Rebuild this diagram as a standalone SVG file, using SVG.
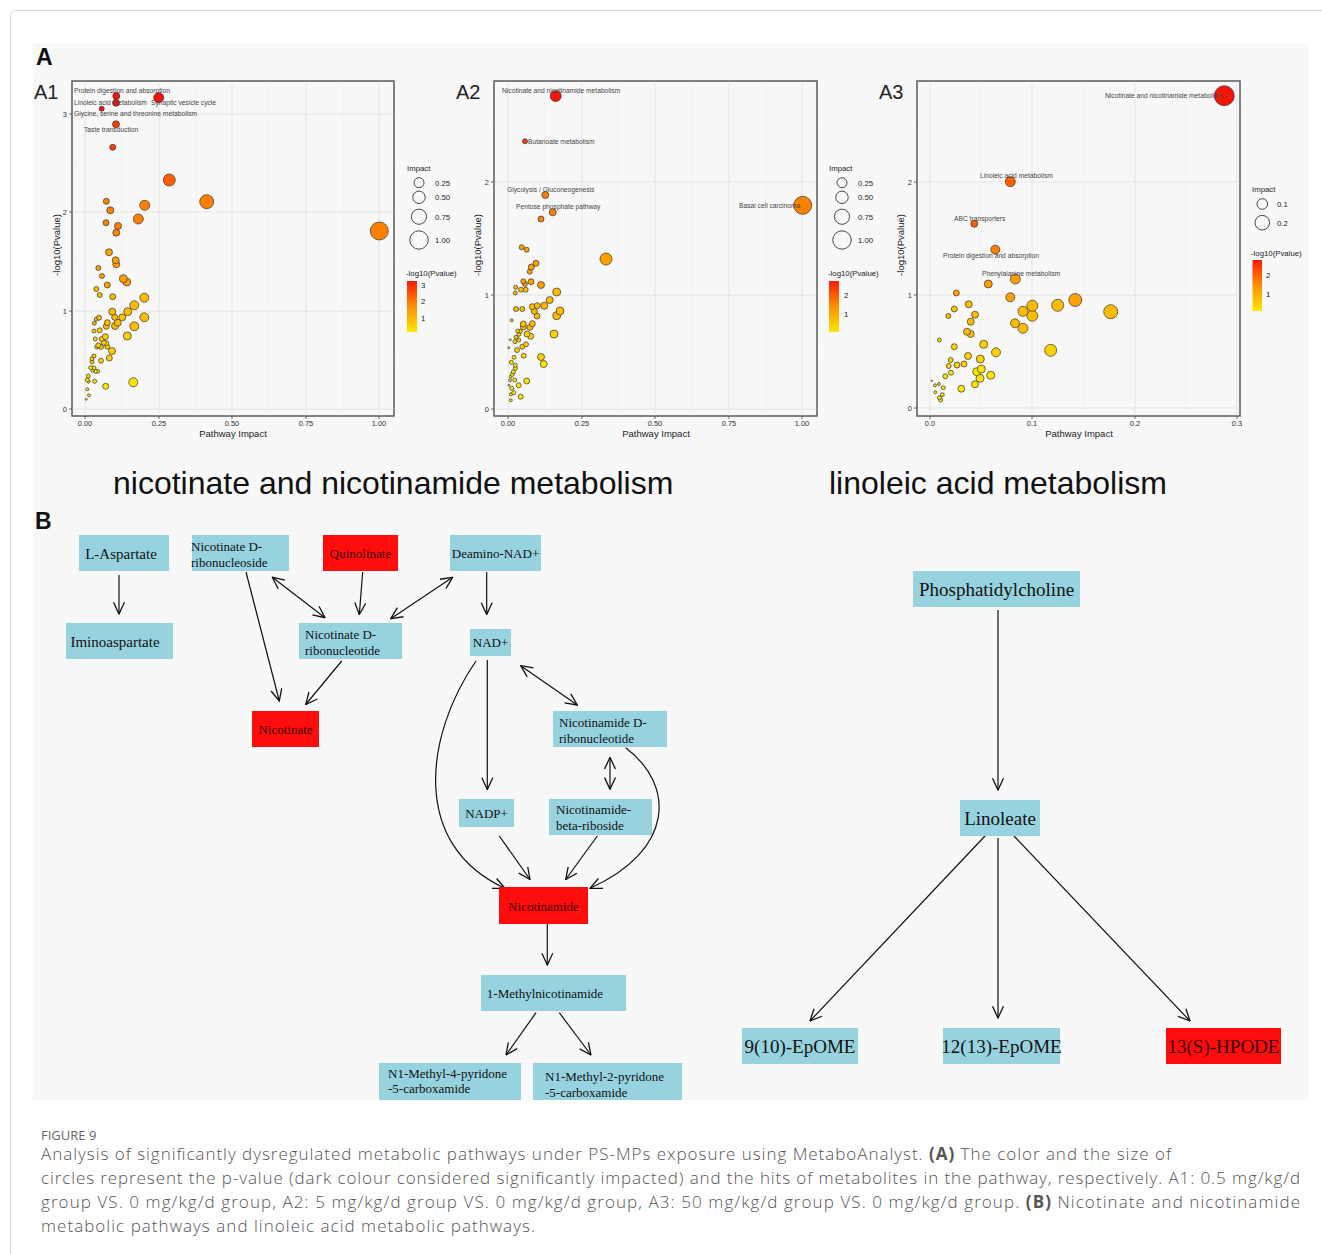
<svg xmlns="http://www.w3.org/2000/svg" width="1322" height="1254" viewBox="0 0 1322 1254">
<style>
.sans{font-family:"Liberation Sans",Arial,sans-serif}
.serif{font-family:"Liberation Serif","Times New Roman",serif}
.panel{fill:#f8f8f8;stroke:#6b6b6b;stroke-width:1.2}
.gmaj{stroke:#e4e4e4;stroke-width:1}
.gmin{stroke:#efefef;stroke-width:0.6}
.tick{stroke:#444;stroke-width:0.8}
.tl{font-family:"Liberation Sans",Arial,sans-serif;font-size:7.5px;fill:#333}
.axt{font-family:"Liberation Sans",Arial,sans-serif;font-size:9.5px;fill:#222}
.lab{font-family:"Liberation Sans",Arial,sans-serif;font-size:6.7px;fill:#444}
.leg{font-family:"Liberation Sans",Arial,sans-serif;font-size:7.8px;fill:#222}
.lc{fill:none;stroke:#333;stroke-width:0.9}
circle.d{stroke:#333;stroke-width:0.7}
.r2{fill:#f41408}.r1{fill:#ff3a00}.o3{fill:#ff5f00}.o2{fill:#ff8000}.o1{fill:#ffa000}.y2{fill:#ffbb00}.y1{fill:#ffd000}.y0{fill:#ffe400}
.bb{fill:#97d3df}
.rb{fill:#ff0c0c}
.nt{font-family:"Liberation Serif","Times New Roman",serif;font-size:13px;fill:#111}
.nt15{font-family:"Liberation Serif","Times New Roman",serif;font-size:15px;fill:#111}
.ntr{font-family:"Liberation Serif","Times New Roman",serif;font-size:13px;fill:#3a0000}
.ntb{font-family:"Liberation Serif","Times New Roman",serif;font-size:19px;fill:#111}
.ntbr{font-family:"Liberation Serif","Times New Roman",serif;font-size:19px;fill:#3a0000}
.edge{fill:none;stroke:#111;stroke-width:1.2}
.cap{font-family:"Open Sans","Liberation Sans",sans-serif;font-size:17px;fill:#555;font-weight:300}
</style>
<defs>
<marker id="ah" viewBox="0 0 10 10" refX="9.5" refY="5" markerWidth="13" markerHeight="13" markerUnits="userSpaceOnUse" orient="auto-start-reverse">
<path d="M0.5,0.8 L9.5,5 L0.5,9.2" fill="none" stroke="#111" stroke-width="1"/>
</marker>
<linearGradient id="cbar" x1="0" y1="0" x2="0" y2="1">
<stop offset="0" stop-color="#ff1a00"/>
<stop offset="0.5" stop-color="#ff9000"/>
<stop offset="1" stop-color="#ffe800"/>
</linearGradient>
</defs>
<rect x="10.5" y="10.5" width="1330" height="1260" rx="5" fill="#ffffff" stroke="#d8d8d8"/>
<rect x="33" y="43" width="1275" height="1057" fill="#f8f8f8"/>

<text x="36" y="65" class="sans" font-size="23" font-weight="bold" fill="#111">A</text>
<text x="34" y="99" class="sans" font-size="20" fill="#222">A1</text>
<text x="456" y="99" class="sans" font-size="20" fill="#222">A2</text>
<text x="879" y="99" class="sans" font-size="20" fill="#222">A3</text>

<!-- A1 plot -->
<g id="plot-a1">
<rect class="panel" x="72" y="81" width="322" height="335"/>
<g>
<line class="gmin" x1="122" y1="81" x2="122" y2="416"/><line class="gmin" x1="196" y1="81" x2="196" y2="416"/><line class="gmin" x1="269" y1="81" x2="269" y2="416"/><line class="gmin" x1="343" y1="81" x2="343" y2="416"/>
<line class="gmin" x1="72" y1="360" x2="394" y2="360"/><line class="gmin" x1="72" y1="261" x2="394" y2="261"/><line class="gmin" x1="72" y1="163" x2="394" y2="163"/>
<line class="gmaj" x1="85" y1="81" x2="85" y2="416"/><line class="gmaj" x1="159" y1="81" x2="159" y2="416"/><line class="gmaj" x1="232" y1="81" x2="232" y2="416"/><line class="gmaj" x1="306" y1="81" x2="306" y2="416"/><line class="gmaj" x1="379" y1="81" x2="379" y2="416"/>
<line class="gmaj" x1="72" y1="409" x2="394" y2="409"/><line class="gmaj" x1="72" y1="311" x2="394" y2="311"/><line class="gmaj" x1="72" y1="212" x2="394" y2="212"/><line class="gmaj" x1="72" y1="114" x2="394" y2="114"/>
</g>
<rect x="72" y="81" width="322" height="335" fill="none" stroke="#6b6b6b" stroke-width="1.2"/>
<g>
<line class="tick" x1="69" y1="409" x2="72" y2="409"/><line class="tick" x1="69" y1="311" x2="72" y2="311"/><line class="tick" x1="69" y1="212" x2="72" y2="212"/><line class="tick" x1="69" y1="114" x2="72" y2="114"/>
<line class="tick" x1="85" y1="416" x2="85" y2="419"/><line class="tick" x1="159" y1="416" x2="159" y2="419"/><line class="tick" x1="232" y1="416" x2="232" y2="419"/><line class="tick" x1="306" y1="416" x2="306" y2="419"/><line class="tick" x1="379" y1="416" x2="379" y2="419"/>
</g>
<text class="tl" x="67" y="412" text-anchor="end">0</text><text class="tl" x="67" y="314" text-anchor="end">1</text><text class="tl" x="67" y="215" text-anchor="end">2</text><text class="tl" x="67" y="117" text-anchor="end">3</text>
<text class="tl" x="85" y="426" text-anchor="middle">0.00</text><text class="tl" x="159" y="426" text-anchor="middle">0.25</text><text class="tl" x="232" y="426" text-anchor="middle">0.50</text><text class="tl" x="306" y="426" text-anchor="middle">0.75</text><text class="tl" x="379" y="426" text-anchor="middle">1.00</text>
<text class="axt" x="233" y="437" text-anchor="middle">Pathway Impact</text>
<text class="axt" transform="translate(60,245) rotate(-90)" text-anchor="middle">-log10(Pvalue)</text>
<g>
<circle class="d y0" cx="86.3" cy="399.3" r="1"/><circle class="d y0" cx="89" cy="395.3" r="1.5"/><circle class="d y0" cx="87.3" cy="389.3" r="1.5"/>
<circle class="d y0" cx="105.7" cy="386.3" r="3"/><circle class="d y0" cx="133.3" cy="382.3" r="4.5"/><circle class="d y0" cx="94.7" cy="381.3" r="2"/><circle class="d y0" cx="88.7" cy="381.7" r="1.5"/><circle class="d y0" cx="87.3" cy="380" r="2"/><circle class="d y0" cx="88.3" cy="376" r="2"/>
<circle class="d y0" cx="97.7" cy="371.3" r="2"/><circle class="d y0" cx="95.3" cy="371.3" r="2"/><circle class="d y0" cx="92.7" cy="370" r="2"/><circle class="d y0" cx="94" cy="368" r="2"/><circle class="d y0" cx="90.7" cy="367.7" r="2"/>
<circle class="d y1" cx="92" cy="362" r="2"/><circle class="d y1" cx="92" cy="358.7" r="2"/><circle class="d y1" cx="94" cy="356" r="2"/><circle class="d y1" cx="101" cy="360.7" r="2.5"/><circle class="d y1" cx="109.3" cy="358" r="3"/><circle class="d y1" cx="112" cy="351" r="3.5"/>
<circle class="d y1" cx="96.7" cy="347" r="2"/><circle class="d y1" cx="101" cy="347" r="2.5"/><circle class="d y1" cx="98.3" cy="345.3" r="2.5"/><circle class="d y1" cx="107.3" cy="346.7" r="2.5"/><circle class="d y1" cx="106.3" cy="343.3" r="2.5"/><circle class="d y1" cx="103.7" cy="342.7" r="2.5"/><circle class="d y1" cx="101.7" cy="339" r="2.5"/><circle class="d y1" cx="95.3" cy="339" r="2"/>
<circle class="d y1" cx="127.3" cy="336" r="4"/><circle class="d y1" cx="105.3" cy="336.7" r="3"/><circle class="d y1" cx="99.7" cy="330.3" r="2.5"/><circle class="d y1" cx="94" cy="331" r="2"/>
<circle class="d y2" cx="94.3" cy="323.3" r="2"/><circle class="d y2" cx="134.3" cy="326.3" r="4.5"/><circle class="d y2" cx="106.3" cy="326.3" r="3"/><circle class="d y2" cx="115" cy="326" r="3.5"/><circle class="d y2" cx="107.3" cy="322.7" r="3"/><circle class="d y2" cx="117.7" cy="322.7" r="3.5"/>
<circle class="d y2" cx="96.3" cy="319.3" r="2"/><circle class="d y2" cx="99" cy="317.7" r="2.5"/><circle class="d y2" cx="114.7" cy="317.3" r="3"/><circle class="d y2" cx="122.3" cy="317.3" r="3.5"/><circle class="d y2" cx="144.3" cy="317.3" r="4.5"/><circle class="d y2" cx="112.3" cy="311.7" r="3.5"/><circle class="d y2" cx="127.7" cy="311.7" r="4"/><circle class="d y2" cx="134.3" cy="305.3" r="4.5"/><circle class="d y2" cx="144.3" cy="297.7" r="4.5"/><circle class="d y2" cx="112.7" cy="296.7" r="3"/><circle class="d y2" cx="99.7" cy="295" r="2.5"/><circle class="d y2" cx="96.3" cy="289" r="2.5"/>
<circle class="d o1" cx="107.3" cy="285" r="3"/><circle class="d o1" cx="126.7" cy="282" r="4"/><circle class="d o1" cx="123.3" cy="278.7" r="4"/><circle class="d o1" cx="102" cy="276" r="2.5"/><circle class="d o1" cx="98.3" cy="268" r="2.5"/><circle class="d o1" cx="116.3" cy="264.3" r="3.5"/><circle class="d o1" cx="115.7" cy="260.3" r="3.5"/><circle class="d o1" cx="109" cy="252.3" r="3.5"/>
<circle class="d o2" cx="379.3" cy="231" r="9"/><circle class="d o2" cx="116.3" cy="232.7" r="3.5"/><circle class="d o2" cx="118" cy="226" r="3.5"/><circle class="d o2" cx="106" cy="222.7" r="3"/><circle class="d o2" cx="138.3" cy="219" r="5"/><circle class="d o2" cx="110.3" cy="210.3" r="3.5"/><circle class="d o2" cx="106.3" cy="201.3" r="3"/><circle class="d o2" cx="144.7" cy="205.3" r="5"/><circle class="d o2" cx="206.7" cy="201.7" r="7"/>
<circle class="d o3" cx="169.3" cy="180" r="6"/><circle class="d r1" cx="112.7" cy="147.3" r="3"/><circle class="d r1" cx="116" cy="124.3" r="3.5"/>
<circle class="d r2" cx="101.7" cy="108.7" r="2.5"/><circle class="d r2" cx="116" cy="102.7" r="3.5"/><circle class="d r2" cx="158.7" cy="97.7" r="5"/><circle class="d r2" cx="116.3" cy="96" r="3.5"/>
</g>
<text class="lab" x="74" y="93">Protein digestion and absorption</text>
<text class="lab" x="74" y="105">Linoleic acid metabolism</text>
<text class="lab" x="151" y="105">Synaptic vesicle cycle</text>
<text class="lab" x="74" y="116">Glycine, serine and threonine metabolism</text>
<text class="lab" x="84" y="132">Taste transduction</text>
</g>
<g id="legend-a1">
<text class="leg" x="407" y="171">Impact</text>
<circle class="lc" cx="419" cy="182.7" r="5"/><circle class="lc" cx="419" cy="197.3" r="6.2"/><circle class="lc" cx="419" cy="216.7" r="7.6"/><circle class="lc" cx="419" cy="240" r="9.2"/>
<text class="leg" x="435" y="185.5">0.25</text><text class="leg" x="435" y="200">0.50</text><text class="leg" x="435" y="219.5">0.75</text><text class="leg" x="435" y="243">1.00</text>
<text class="leg" x="406" y="276">-log10(Pvalue)</text>
<rect x="407" y="281" width="10" height="51" fill="url(#cbar)"/>
<text class="leg" x="421" y="288">3</text><text class="leg" x="421" y="304">2</text><text class="leg" x="421" y="321">1</text>
</g>

<!-- A2 plot -->
<g id="plot-a2">
<rect class="panel" x="494" y="81" width="323" height="335"/>
<g>
<line class="gmin" x1="545" y1="81" x2="545" y2="416"/><line class="gmin" x1="618" y1="81" x2="618" y2="416"/><line class="gmin" x1="692" y1="81" x2="692" y2="416"/><line class="gmin" x1="766" y1="81" x2="766" y2="416"/>
<line class="gmin" x1="494" y1="352" x2="817" y2="352"/><line class="gmin" x1="494" y1="238" x2="817" y2="238"/><line class="gmin" x1="494" y1="125" x2="817" y2="125"/>
<line class="gmaj" x1="508" y1="81" x2="508" y2="416"/><line class="gmaj" x1="582" y1="81" x2="582" y2="416"/><line class="gmaj" x1="655" y1="81" x2="655" y2="416"/><line class="gmaj" x1="729" y1="81" x2="729" y2="416"/><line class="gmaj" x1="802" y1="81" x2="802" y2="416"/>
<line class="gmaj" x1="494" y1="409" x2="817" y2="409"/><line class="gmaj" x1="494" y1="295" x2="817" y2="295"/><line class="gmaj" x1="494" y1="182" x2="817" y2="182"/>
</g>
<rect x="494" y="81" width="323" height="335" fill="none" stroke="#6b6b6b" stroke-width="1.2"/>
<g>
<line class="tick" x1="491" y1="409" x2="494" y2="409"/><line class="tick" x1="491" y1="295" x2="494" y2="295"/><line class="tick" x1="491" y1="182" x2="494" y2="182"/>
<line class="tick" x1="508" y1="416" x2="508" y2="419"/><line class="tick" x1="582" y1="416" x2="582" y2="419"/><line class="tick" x1="655" y1="416" x2="655" y2="419"/><line class="tick" x1="729" y1="416" x2="729" y2="419"/><line class="tick" x1="802" y1="416" x2="802" y2="419"/>
</g>
<text class="tl" x="489" y="412" text-anchor="end">0</text><text class="tl" x="489" y="298" text-anchor="end">1</text><text class="tl" x="489" y="185" text-anchor="end">2</text>
<text class="tl" x="508" y="426" text-anchor="middle">0.00</text><text class="tl" x="582" y="426" text-anchor="middle">0.25</text><text class="tl" x="655" y="426" text-anchor="middle">0.50</text><text class="tl" x="729" y="426" text-anchor="middle">0.75</text><text class="tl" x="802" y="426" text-anchor="middle">1.00</text>
<text class="axt" x="656" y="437" text-anchor="middle">Pathway Impact</text>
<text class="axt" transform="translate(481,245) rotate(-90)" text-anchor="middle">-log10(Pvalue)</text>
<g>
<circle class="d y0" cx="510.7" cy="400.3" r="1.5"/><circle class="d y0" cx="520.7" cy="396.7" r="2.5"/><circle class="d y0" cx="511" cy="394.3" r="1.5"/><circle class="d y0" cx="513.7" cy="392.7" r="2"/><circle class="d y0" cx="511.7" cy="388.3" r="2"/><circle class="d y0" cx="509" cy="385.3" r="1"/><circle class="d y0" cx="518.7" cy="385.3" r="2.5"/><circle class="d y0" cx="526.7" cy="381" r="3"/><circle class="d y0" cx="510" cy="380.3" r="1.5"/><circle class="d y0" cx="514.7" cy="380" r="2"/><circle class="d y0" cx="510.7" cy="376.7" r="1.5"/><circle class="d y0" cx="512.3" cy="374.3" r="2"/><circle class="d y0" cx="513.3" cy="371.7" r="2"/><circle class="d y0" cx="515.3" cy="368.3" r="2"/><circle class="d y0" cx="515.3" cy="365.3" r="2"/><circle class="d y0" cx="511.3" cy="362.3" r="2"/><circle class="d y0" cx="514" cy="357.3" r="2"/><circle class="d y0" cx="543.7" cy="364" r="3.5"/>
<circle class="d y1" cx="541" cy="357" r="3.5"/><circle class="d y1" cx="523.7" cy="355.7" r="2.5"/><circle class="d y1" cx="517" cy="350" r="2.5"/><circle class="d y1" cx="522.3" cy="346.7" r="2.5"/><circle class="d y1" cx="526" cy="344.3" r="2.5"/><circle class="d y1" cx="508.7" cy="347.7" r="1"/><circle class="d y1" cx="510.3" cy="339.7" r="1"/><circle class="d y1" cx="515" cy="341.7" r="2"/><circle class="d y1" cx="518.7" cy="340" r="2"/><circle class="d y1" cx="516" cy="337.3" r="2"/><circle class="d y1" cx="519" cy="334.3" r="2"/><circle class="d y1" cx="520.3" cy="331.3" r="2"/><circle class="d y1" cx="517.7" cy="331" r="2"/><circle class="d y1" cx="530.7" cy="336.3" r="3"/><circle class="d y1" cx="527" cy="334" r="3"/><circle class="d y1" cx="554" cy="334" r="4"/>
<circle class="d y2" cx="523.3" cy="327" r="3"/><circle class="d y2" cx="530" cy="327.3" r="3"/><circle class="d y2" cx="532.3" cy="323.7" r="3"/><circle class="d y2" cx="523.3" cy="324" r="3"/><circle class="d y2" cx="511.7" cy="320.3" r="1.5"/><circle class="d y2" cx="522.3" cy="309" r="2.5"/><circle class="d y2" cx="516" cy="309" r="2.5"/><circle class="d y2" cx="537" cy="316" r="3"/><circle class="d y2" cx="534.3" cy="311.3" r="3"/><circle class="d y2" cx="532.3" cy="306.7" r="3"/><circle class="d y2" cx="537.3" cy="305.7" r="3"/><circle class="d y2" cx="556.7" cy="315.7" r="4"/><circle class="d y2" cx="560" cy="311" r="4"/><circle class="d y2" cx="544.3" cy="305.7" r="3.5"/><circle class="d y2" cx="549.7" cy="300" r="3.5"/><circle class="d y2" cx="556.7" cy="292" r="4"/><circle class="d y2" cx="515.3" cy="293" r="2"/><circle class="d y2" cx="525.7" cy="289.7" r="2.5"/><circle class="d y2" cx="521" cy="289.7" r="2.5"/><circle class="d y2" cx="515.7" cy="287.3" r="2"/>
<circle class="d o1" cx="525" cy="284" r="2.5"/><circle class="d o1" cx="523.3" cy="281.3" r="2.5"/><circle class="d o1" cx="541" cy="285" r="3.5"/><circle class="d o1" cx="531" cy="281.7" r="3"/><circle class="d o1" cx="529.7" cy="271.7" r="2.5"/><circle class="d o1" cx="531.3" cy="267" r="3"/><circle class="d o1" cx="536" cy="263.3" r="3"/><circle class="d o1" cx="526.7" cy="249.7" r="2.5"/><circle class="d o1" cx="521.7" cy="247.3" r="2.5"/><circle class="d o1" cx="606" cy="259" r="6"/>
<circle class="d o2" cx="802.7" cy="205.3" r="9"/><circle class="d o2" cx="541" cy="219" r="3"/><circle class="d o2" cx="552.7" cy="212.3" r="3.5"/><circle class="d o2" cx="545.3" cy="195" r="3.5"/>
<circle class="d r1" cx="525" cy="141.3" r="2.5"/><circle class="d r2" cx="555.7" cy="96" r="5.5"/>
</g>
<text class="lab" x="502" y="93">Nicotinate and nicotinamide metabolism</text>
<text class="lab" x="528" y="144">Butanoate metabolism</text>
<text class="lab" x="507" y="192">Glycolysis / Gluconeogenesis</text>
<text class="lab" x="516" y="209">Pentose phosphate pathway</text>
<text class="lab" x="739" y="208">Basal cell carcinoma</text>
</g>
<g id="legend-a2">
<text class="leg" x="829" y="171">Impact</text>
<circle class="lc" cx="842" cy="182.7" r="5"/><circle class="lc" cx="842" cy="197.3" r="6.2"/><circle class="lc" cx="842" cy="216.7" r="7.6"/><circle class="lc" cx="842" cy="240" r="9.2"/>
<text class="leg" x="858" y="185.5">0.25</text><text class="leg" x="858" y="200">0.50</text><text class="leg" x="858" y="219.5">0.75</text><text class="leg" x="858" y="243">1.00</text>
<text class="leg" x="828" y="276">-log10(Pvalue)</text>
<rect x="829" y="281" width="10" height="51" fill="url(#cbar)"/>
<text class="leg" x="844" y="298">2</text><text class="leg" x="844" y="317">1</text>
</g>

<!-- A3 plot -->
<g id="plot-a3">
<rect class="panel" x="917" y="81" width="323" height="335"/>
<g>
<line class="gmin" x1="981" y1="81" x2="981" y2="416"/><line class="gmin" x1="1083" y1="81" x2="1083" y2="416"/><line class="gmin" x1="1186" y1="81" x2="1186" y2="416"/>
<line class="gmin" x1="917" y1="352" x2="1240" y2="352"/><line class="gmin" x1="917" y1="238" x2="1240" y2="238"/><line class="gmin" x1="917" y1="125" x2="1240" y2="125"/>
<line class="gmaj" x1="930" y1="81" x2="930" y2="416"/><line class="gmaj" x1="1032" y1="81" x2="1032" y2="416"/><line class="gmaj" x1="1135" y1="81" x2="1135" y2="416"/><line class="gmaj" x1="1237" y1="81" x2="1237" y2="416"/>
<line class="gmaj" x1="917" y1="408" x2="1240" y2="408"/><line class="gmaj" x1="917" y1="295" x2="1240" y2="295"/><line class="gmaj" x1="917" y1="182" x2="1240" y2="182"/>
</g>
<rect x="917" y="81" width="323" height="335" fill="none" stroke="#6b6b6b" stroke-width="1.2"/>
<g>
<line class="tick" x1="914" y1="408" x2="917" y2="408"/><line class="tick" x1="914" y1="295" x2="917" y2="295"/><line class="tick" x1="914" y1="182" x2="917" y2="182"/>
<line class="tick" x1="930" y1="416" x2="930" y2="419"/><line class="tick" x1="1032" y1="416" x2="1032" y2="419"/><line class="tick" x1="1135" y1="416" x2="1135" y2="419"/><line class="tick" x1="1237" y1="416" x2="1237" y2="419"/>
</g>
<text class="tl" x="912" y="411" text-anchor="end">0</text><text class="tl" x="912" y="298" text-anchor="end">1</text><text class="tl" x="912" y="185" text-anchor="end">2</text>
<text class="tl" x="930" y="426" text-anchor="middle">0.0</text><text class="tl" x="1032" y="426" text-anchor="middle">0.1</text><text class="tl" x="1135" y="426" text-anchor="middle">0.2</text><text class="tl" x="1237" y="426" text-anchor="middle">0.3</text>
<text class="axt" x="1079" y="437" text-anchor="middle">Pathway Impact</text>
<text class="axt" transform="translate(904,245) rotate(-90)" text-anchor="middle">-log10(Pvalue)</text>
<g>
<circle class="d y0" cx="931.7" cy="380.7" r="0.8"/><circle class="d y0" cx="940.7" cy="400" r="2"/><circle class="d y0" cx="939.3" cy="397.7" r="2"/><circle class="d y0" cx="942.3" cy="394.7" r="2"/><circle class="d y0" cx="935.3" cy="392.3" r="1.5"/><circle class="d y0" cx="939" cy="384" r="1.5"/><circle class="d y0" cx="935" cy="385.3" r="1.5"/><circle class="d y0" cx="943.3" cy="387.7" r="2"/><circle class="d y0" cx="961.3" cy="388.7" r="3.5"/><circle class="d y0" cx="975" cy="384.3" r="3.5"/><circle class="d y0" cx="945.3" cy="376.3" r="2.5"/><circle class="d y0" cx="951" cy="372.7" r="2.5"/><circle class="d y0" cx="980" cy="378.3" r="4"/><circle class="d y0" cx="990.7" cy="375.3" r="4"/><circle class="d y0" cx="976.7" cy="371.7" r="4"/><circle class="d y0" cx="981.3" cy="369" r="4"/>
<circle class="d y1" cx="964" cy="364" r="3"/><circle class="d y1" cx="957" cy="365" r="3"/><circle class="d y1" cx="948.7" cy="366" r="2.5"/><circle class="d y1" cx="950.7" cy="360" r="2.5"/><circle class="d y1" cx="980.3" cy="359" r="4"/><circle class="d y1" cx="968" cy="356" r="3.5"/><circle class="d y1" cx="1050.7" cy="350.3" r="6"/><circle class="d y1" cx="996" cy="352.3" r="4.5"/><circle class="d y1" cx="983.7" cy="344.3" r="4"/><circle class="d y1" cx="954.3" cy="346.7" r="3"/><circle class="d y1" cx="939.3" cy="340" r="2"/>
<circle class="d y2" cx="970.7" cy="334" r="3.5"/><circle class="d y2" cx="967" cy="331.7" r="3.5"/><circle class="d y2" cx="1023" cy="328.3" r="5"/><circle class="d y2" cx="1015" cy="323.3" r="4.5"/><circle class="d y2" cx="970.7" cy="321.7" r="3.5"/><circle class="d y2" cx="948.3" cy="316" r="2.5"/><circle class="d y2" cx="954.3" cy="309" r="3"/><circle class="d y2" cx="975" cy="314.7" r="3.5"/><circle class="d y2" cx="968.7" cy="304.3" r="3.5"/><circle class="d y2" cx="1032.3" cy="315.7" r="5.5"/><circle class="d y2" cx="1023" cy="311.3" r="5"/><circle class="d y2" cx="1110.7" cy="311.7" r="7"/><circle class="d y2" cx="1032.3" cy="305.7" r="5.5"/><circle class="d y2" cx="1057.7" cy="305.3" r="6"/>
<circle class="d o1" cx="1075.3" cy="300" r="6.5"/><circle class="d o1" cx="1010.3" cy="297.3" r="4.5"/><circle class="d o1" cx="956.3" cy="293" r="3"/><circle class="d o1" cx="988.3" cy="284" r="4"/><circle class="d o1" cx="1015.3" cy="279" r="5"/>
<circle class="d o2" cx="995.3" cy="249.7" r="4.5"/><circle class="d o3" cx="974.3" cy="223.7" r="3.5"/><circle class="d o3" cx="1010.3" cy="181.7" r="5"/>
<circle class="d r2" cx="1224.3" cy="95.7" r="10"/>
</g>
<text class="lab" x="1105" y="98">Nicotinate and nicotinamide metabolism</text>
<text class="lab" x="980" y="178">Linoleic acid metabolism</text>
<text class="lab" x="954" y="221">ABC transporters</text>
<text class="lab" x="943" y="258">Protein digestion and absorption</text>
<text class="lab" x="982" y="276">Phenylalanine metabolism</text>
</g>
<g id="legend-a3">
<text class="leg" x="1252" y="192">Impact</text>
<circle class="lc" cx="1262.3" cy="204" r="5.3"/><circle class="lc" cx="1262.3" cy="222.7" r="7.3"/>
<text class="leg" x="1277" y="207">0.1</text><text class="leg" x="1277" y="225.5">0.2</text>
<text class="leg" x="1251" y="256">-log10(Pvalue)</text>
<rect x="1252.5" y="260" width="9.5" height="51" fill="url(#cbar)"/>
<text class="leg" x="1266" y="278">2</text><text class="leg" x="1266" y="297">1</text>
</g>

<!-- Section titles -->
<text x="113" y="494" class="sans" font-size="32" fill="#111">nicotinate and nicotinamide metabolism</text>
<text x="829" y="494" class="sans" font-size="32" fill="#111">linoleic acid metabolism</text>
<text x="35" y="529" class="sans" font-size="23" font-weight="bold" fill="#111">B</text>

<!-- Connectors -->
<g id="connectors">
<line class="edge" x1="119" y1="575" x2="119" y2="614" marker-end="url(#ah)"/>
<line class="edge" x1="246" y1="572" x2="279.3" y2="701" marker-end="url(#ah)"/>
<line class="edge" x1="272.3" y1="577.3" x2="325" y2="617.7" marker-start="url(#ah)" marker-end="url(#ah)"/>
<line class="edge" x1="362.7" y1="572" x2="359.3" y2="614.5" marker-end="url(#ah)"/>
<line class="edge" x1="452.7" y1="577.3" x2="390.7" y2="618.7" marker-start="url(#ah)" marker-end="url(#ah)"/>
<line class="edge" x1="341.7" y1="661" x2="305.7" y2="704.5" marker-end="url(#ah)"/>
<line class="edge" x1="486.7" y1="572" x2="486.7" y2="614.5" marker-end="url(#ah)"/>
<line class="edge" x1="520.7" y1="665.7" x2="577.3" y2="705" marker-start="url(#ah)" marker-end="url(#ah)"/>
<line class="edge" x1="487.3" y1="660" x2="487.3" y2="789.5" marker-end="url(#ah)"/>
<path class="edge" d="M476,661 C425,735 410,845 505,888.3" marker-end="url(#ah)"/>
<path class="edge" d="M625.7,747.7 C675,785 675,850 590,888.3" marker-end="url(#ah)"/>
<line class="edge" x1="610" y1="757.3" x2="610" y2="789.3" marker-start="url(#ah)" marker-end="url(#ah)"/>
<line class="edge" x1="499.3" y1="836" x2="530" y2="879.5" marker-end="url(#ah)"/>
<line class="edge" x1="597.3" y1="836" x2="565.7" y2="879.5" marker-end="url(#ah)"/>
<line class="edge" x1="547.3" y1="924" x2="547.3" y2="965" marker-end="url(#ah)"/>
<line class="edge" x1="536" y1="1012.7" x2="506" y2="1055" marker-end="url(#ah)"/>
<line class="edge" x1="559.3" y1="1012.7" x2="591" y2="1055" marker-end="url(#ah)"/>
<line class="edge" x1="998" y1="610" x2="998" y2="790" marker-end="url(#ah)"/>
<line class="edge" x1="985" y1="836" x2="810" y2="1021" marker-end="url(#ah)"/>
<line class="edge" x1="998" y1="838" x2="998" y2="1018" marker-end="url(#ah)"/>
<line class="edge" x1="1014" y1="836" x2="1190" y2="1021" marker-end="url(#ah)"/>
</g>

<!-- Nodes -->
<g id="n-l-aspartate"><rect class="bb" x="79" y="535" width="90" height="36"/><text class="nt15" x="121" y="558.5" text-anchor="middle">L-Aspartate</text></g>
<g id="n-iminoaspartate"><rect class="bb" x="66" y="623" width="107" height="36"/><text class="nt15" x="115" y="647" text-anchor="middle">Iminoaspartate</text></g>
<g id="n-nicotinate-ribonucleoside"><rect class="bb" x="192" y="535" width="97" height="36"/><text class="nt" x="191" y="551">Nicotinate D-</text><text class="nt" x="191" y="567">ribonucleoside</text></g>
<g id="n-quinolinate"><rect class="rb" x="323" y="535" width="75" height="36"/><text class="ntr" x="360.5" y="558" text-anchor="middle">Quinolinate</text></g>
<g id="n-deamino-nad"><rect class="bb" x="450" y="535" width="91" height="36"/><text class="nt" x="495.5" y="558" text-anchor="middle">Deamino-NAD+</text></g>
<g id="n-nicotinate-ribonucleotide"><rect class="bb" x="299" y="623" width="103" height="36"/><text class="nt" x="305" y="639">Nicotinate D-</text><text class="nt" x="305" y="655">ribonucleotide</text></g>
<g id="n-nad"><rect class="bb" x="470" y="629" width="41" height="27"/><text class="nt" x="490.5" y="647" text-anchor="middle">NAD+</text></g>
<g id="n-nicotinate"><rect class="rb" x="252" y="711" width="67" height="36"/><text class="ntr" x="285.5" y="734" text-anchor="middle">Nicotinate</text></g>
<g id="n-nicotinamide-ribonucleotide"><rect class="bb" x="553" y="711" width="114" height="36"/><text class="nt" x="559" y="727">Nicotinamide D-</text><text class="nt" x="559" y="743">ribonucleotide</text></g>
<g id="n-nadp"><rect class="bb" x="459" y="799" width="55" height="28"/><text class="nt" x="486.5" y="817.5" text-anchor="middle">NADP+</text></g>
<g id="n-nicotinamide-riboside"><rect class="bb" x="549" y="799" width="103" height="36"/><text class="nt" x="556" y="814">Nicotinamide-</text><text class="nt" x="556" y="830">beta-riboside</text></g>
<g id="n-nicotinamide"><rect class="rb" x="499" y="887" width="89" height="37"/><text class="ntr" x="543.5" y="910.5" text-anchor="middle">Nicotinamide</text></g>
<g id="n-methylnicotinamide"><rect class="bb" x="481" y="975" width="145" height="36"/><text class="nt" x="545" y="997.5" text-anchor="middle">1-Methylnicotinamide</text></g>
<g id="n-n1-methyl-4"><rect class="bb" x="379" y="1063" width="142" height="37"/><text class="nt" x="388" y="1077.5">N1-Methyl-4-pyridone</text><text class="nt" x="388" y="1093">-5-carboxamide</text></g>
<g id="n-n1-methyl-2"><rect class="bb" x="533" y="1063" width="149" height="37"/><text class="nt" x="545" y="1081">N1-Methyl-2-pyridone</text><text class="nt" x="545" y="1096.5">-5-carboxamide</text></g>
<g id="n-phosphatidylcholine"><rect class="bb" x="913" y="571" width="167" height="36"/><text class="ntb" x="996.5" y="596" text-anchor="middle">Phosphatidylcholine</text></g>
<g id="n-linoleate"><rect class="bb" x="960" y="800" width="80" height="36"/><text class="ntb" x="1000" y="825" text-anchor="middle">Linoleate</text></g>
<g id="n-910-epome"><rect class="bb" x="742" y="1028" width="116" height="36"/><text class="ntb" x="800" y="1053" text-anchor="middle">9(10)-EpOME</text></g>
<g id="n-1213-epome"><rect class="bb" x="943" y="1028" width="117" height="36"/><text class="ntb" x="1001.5" y="1053" text-anchor="middle">12(13)-EpOME</text></g>
<g id="n-13s-hpode"><rect class="rb" x="1166" y="1028" width="115" height="36"/><text class="ntbr" x="1223.5" y="1053" text-anchor="middle">13(S)-HPODE</text></g>

<!-- Caption -->
<text x="41" y="1140" font-family="'Open Sans','Liberation Sans',sans-serif" font-size="13" fill="#666">FIGURE 9</text>
<text class="cap" x="41" y="1160" textLength="1130">Analysis of significantly dysregulated metabolic pathways under PS-MPs exposure using MetaboAnalyst. <tspan font-weight="bold">(A)</tspan> The color and the size of</text>
<text class="cap" x="41" y="1184" textLength="1259">circles represent the p-value (dark colour considered significantly impacted) and the hits of metabolites in the pathway, respectively. A1: 0.5 mg/kg/d</text>
<text class="cap" x="41" y="1208" textLength="1259">group VS. 0 mg/kg/d group, A2: 5 mg/kg/d group VS. 0 mg/kg/d group, A3: 50 mg/kg/d group VS. 0 mg/kg/d group. <tspan font-weight="bold">(B)</tspan> Nicotinate and nicotinamide</text>
<text class="cap" x="41" y="1232" textLength="494">metabolic pathways and linoleic acid metabolic pathways.</text>
</svg>
